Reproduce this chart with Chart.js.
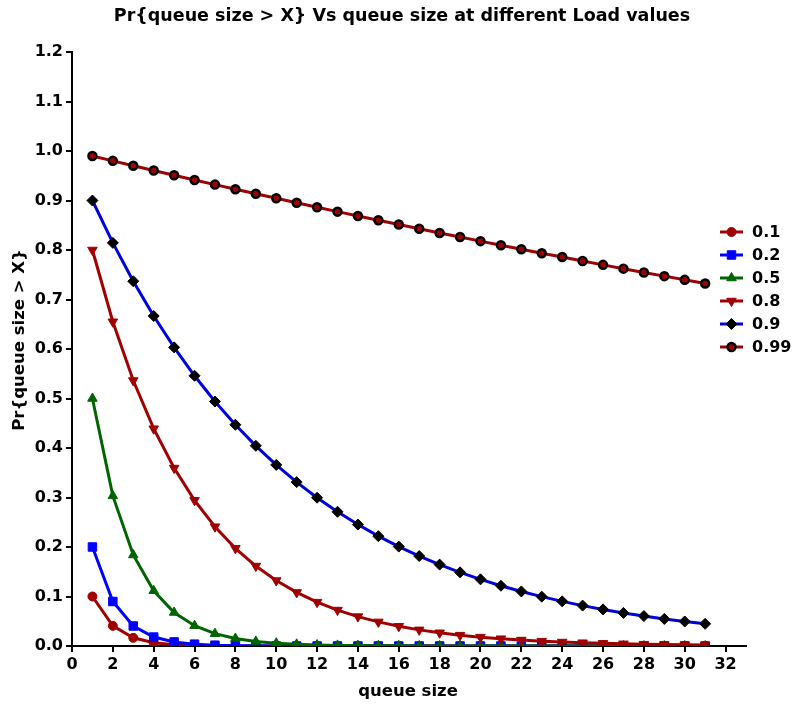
<!DOCTYPE html>
<html>
<head>
<meta charset="utf-8">
<script src="https://cdn.jsdelivr.net/npm/chart.js@4"></script>
<style>
  html, body { margin: 0; padding: 0; background: #fff; }
  #wrap { width: 793px; height: 706px; position: relative; }
</style>
</head>
<body>
<div id="wrap"><canvas id="queueChart"></canvas></div>
<script>
// queue size values on the x axis
const queueSizes = [1,2,3,4,5,6,7,8,9,10,11,12,13,14,15,16,17,18,19,20,21,22,23,24,25,26,27,28,29,30,31];
const xTickValues = [0,2,4,6,8,10,12,14,16,18,20,22,24,26,28,30,32];

// Pr{queue size > X} for each load
const load01 = [0.1,0.0407,0.0165,0.0067,0.0027,0.0011,0.0005,0.0002,0.0001,0,0,0,0,0,0,0,0,0,0,0,0,0,0,0,0,0,0,0,0,0,0];
const load02 = [0.2,0.0899,0.0404,0.0181,0.0082,0.0037,0.0016,0.0007,0.0003,0.0001,0,0,0,0,0,0,0,0,0,0,0,0,0,0,0,0,0,0,0,0,0];
const load05 = [0.5,0.3033,0.1839,0.1116,0.0677,0.041,0.0249,0.0151,0.0092,0.0056,0.0034,0.002,0.0012,0.0008,0.0005,0.0003,0.0002,0.0001,0,0,0,0,0,0,0,0,0,0,0,0,0];
const load08 = [0.8,0.655,0.5363,0.439,0.3595,0.2943,0.241,0.1973,0.1615,0.1322,0.1083,0.0886,0.0726,0.0594,0.0487,0.0398,0.0326,0.0267,0.0219,0.0179,0.0147,0.012,0.0098,0.008,0.0066,0.0054,0.0044,0.0036,0.003,0.0024,0.002];
const load09 = [0.9,0.8144,0.7369,0.6667,0.6033,0.5459,0.4939,0.4469,0.4044,0.3659,0.3311,0.2996,0.2711,0.2453,0.2219,0.2008,0.1817,0.1644,0.1488,0.1346,0.1218,0.1102,0.0997,0.0902,0.0816,0.0739,0.0668,0.0605,0.0547,0.0495,0.0448];
const load099 = [0.99,0.9801,0.9703,0.9606,0.951,0.9415,0.9321,0.9227,0.9135,0.9044,0.8953,0.8864,0.8775,0.8687,0.8601,0.8515,0.8429,0.8345,0.8262,0.8179,0.8097,0.8016,0.7936,0.7857,0.7778,0.77,0.7623,0.7547,0.7472,0.7397,0.7323];

const loadLabels = ['0.1', '0.2', '0.5', '0.8', '0.9', '0.99'];

const FONT = '"DejaVu Sans", Verdana, sans-serif';
const darkRed = '#a00000';

function toPoints(values) {
  return values.map((v, i) => ({ x: queueSizes[i], y: v }));
}

const seriesStyles = [
  { values: load01,  line: darkRed,   fill: darkRed,   border: darkRed,   style: 'circle',   rot: 0,   r: 4.5, bw: 1 },
  { values: load02,  line: '#0000ff', fill: '#0000ff', border: '#0000ff', style: 'rect',     rot: 0,   r: 6,   bw: 1 },
  { values: load05,  line: '#006400', fill: '#006400', border: '#006400', style: 'triangle', rot: 0,   r: 5.5, bw: 1 },
  { values: load08,  line: darkRed,   fill: darkRed,   border: darkRed,   style: 'triangle', rot: 180, r: 5.5, bw: 1 },
  { values: load09,  line: '#0000dd', fill: '#000000', border: '#000000', style: 'rectRot',  rot: 0,   r: 5.5, bw: 1 },
  { values: load099, line: darkRed,   fill: darkRed,   border: '#000000', style: 'circle',   rot: 0,   r: 4,   bw: 2.5 }
];

const datasets = seriesStyles.map((s, i) => ({
  label: loadLabels[i],
  data: toPoints(s.values),
  borderColor: s.line,
  backgroundColor: s.fill,
  borderWidth: 3,
  pointStyle: s.style,
  rotation: s.rot,
  pointRadius: s.r,
  pointBackgroundColor: s.fill,
  pointBorderColor: s.border,
  pointBorderWidth: s.bw,
  tension: 0,
  order: 6 - i
}));

// title, axis titles and the legend are drawn by hand to match the layout
const decorPlugin = {
  id: 'decor',
  afterDraw(chart) {
    const ctx = chart.ctx;
    ctx.save();
    ctx.fillStyle = '#000';
    ctx.textBaseline = 'middle';
    ctx.textAlign = 'center';
    ctx.font = 'bold 17.5px ' + FONT;
    ctx.fillText('Pr{queue size > X} Vs queue size at different Load values', 402, 16);

    ctx.font = 'bold 16.5px ' + FONT;
    ctx.fillText('queue size', 408, 692);

    ctx.save();
    ctx.translate(20, 340);
    ctx.rotate(-Math.PI / 2);
    ctx.fillText('Pr{queue size > X}', 0, 0);
    ctx.restore();

    // legend
    ctx.textAlign = 'left';
    ctx.font = 'bold 16px ' + FONT;
    seriesStyles.forEach((s, i) => {
      const y = 232 + i * 23;
      ctx.strokeStyle = s.line;
      ctx.lineWidth = 3;
      ctx.beginPath();
      ctx.moveTo(720, y);
      ctx.lineTo(743, y);
      ctx.stroke();
      ctx.fillStyle = s.fill;
      ctx.strokeStyle = s.border;
      ctx.lineWidth = s.bw;
      Chart.helpers.drawPoint(ctx, { pointStyle: s.style, rotation: s.rot, radius: s.r, borderWidth: s.bw }, 731.5, y);
      ctx.fillStyle = '#000';
      ctx.fillText(loadLabels[i], 752, y + 1);
    });
    ctx.restore();
  }
};

new Chart(document.getElementById('queueChart'), {
  type: 'line',
  data: { datasets: datasets },
  options: {
    responsive: true,
    maintainAspectRatio: false,
    animation: false,
    layout: { padding: { top: 52, right: 47, left: 0, bottom: 0 } },
    plugins: {
      legend: { display: false },
      title: { display: false },
      tooltip: { enabled: false }
    },
    scales: {
      x: {
        type: 'linear',
        min: 0,
        max: 33,
        afterFit(scale) { scale.height = 60; },
        afterBuildTicks(scale) { scale.ticks = xTickValues.map(v => ({ value: v })); },
        border: { color: '#000', width: 2 },
        grid: { drawOnChartArea: false, color: '#000', lineWidth: 2, tickLength: 6 },
        ticks: { color: '#000', font: { family: FONT, size: 16, weight: 'bold' }, padding: 3, maxRotation: 0, autoSkip: false }
      },
      y: {
        min: 0,
        max: 1.2,
        afterFit(scale) { scale.width = 72; },
        border: { color: '#000', width: 2 },
        grid: { drawOnChartArea: false, color: '#000', lineWidth: 2, tickLength: 6 },
        ticks: {
          stepSize: 0.1,
          color: '#000',
          font: { family: FONT, size: 16, weight: 'bold' },
          padding: 3,
          callback: v => v.toFixed(1)
        }
      }
    }
  },
  plugins: [decorPlugin]
});
</script>
</body>
</html>
